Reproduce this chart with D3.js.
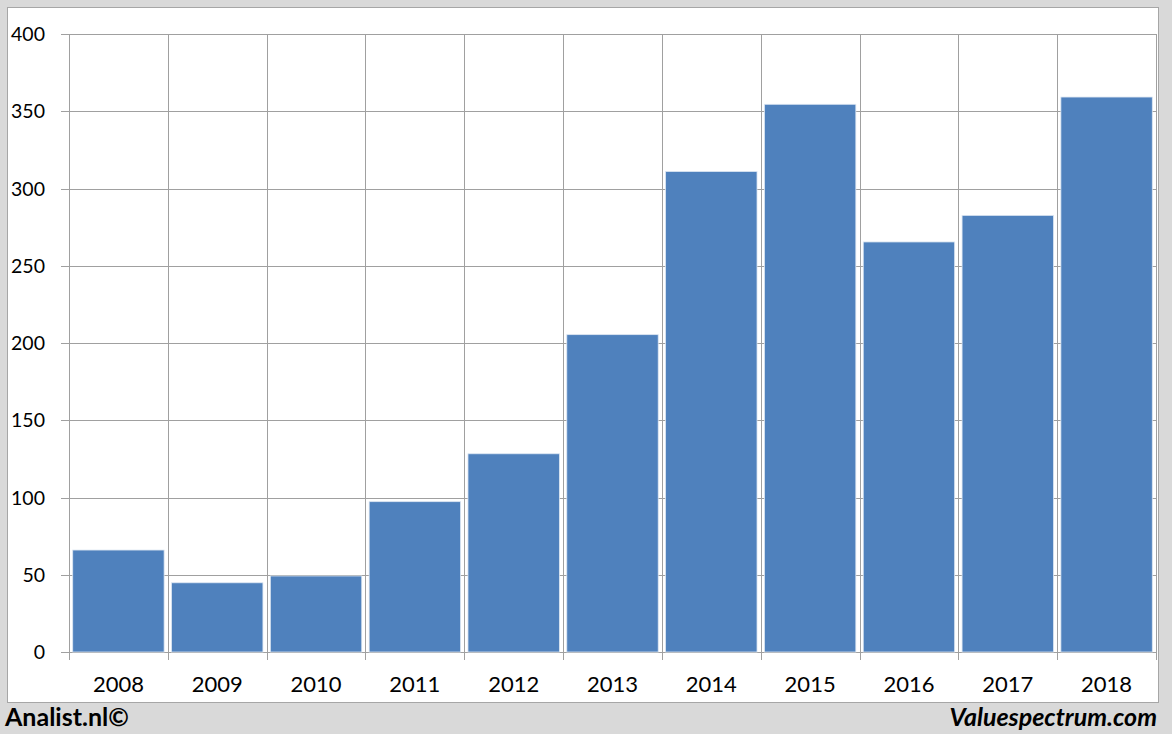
<!DOCTYPE html>
<html>
<head>
<meta charset="utf-8">
<script src="https://cdn.jsdelivr.net/npm/d3@7"></script>
<style>
  html, body { margin: 0; padding: 0; background: #d9d9d9; }
  svg { display: block; }
</style>
</head>
<body>
<svg id="chart" width="1172" height="734"></svg>
<script>
const years = ["2008","2009","2010","2011","2012","2013","2014","2015","2016","2017","2018"];
const values = [66, 44.8, 49.2, 97.3, 128.3, 205.4, 311, 354.5, 265.4, 282.6, 359.2];
const yTicks = [0, 50, 100, 150, 200, 250, 300, 350, 400];
const leftCredit = "Analist.nl©";
const rightCredit = "Valuespectrum.com";

const svg = d3.select("#chart");
const W = 1172, H = 734;

svg.append("rect").attr("x", 0).attr("y", 0).attr("width", W).attr("height", H).attr("fill", "#d9d9d9");
svg.append("rect").attr("x", 7.5).attr("y", 7.5).attr("width", 1151).attr("height", 695)
  .attr("fill", "#ffffff").attr("stroke", "#a6a6a6").attr("stroke-width", 1);

const plot = { left: 69, right: 1156, top: 34, bottom: 652 };

const x = d3.scaleBand().domain(years).range([plot.left, plot.right]).paddingInner(0.075).paddingOuter(0.0375);
const xb = d3.scaleBand().domain(years).range([plot.left, plot.right]).padding(0);
const y = d3.scaleLinear().domain([0, 400]).range([plot.bottom, plot.top]);

const gridColor = "#a0a0a0";

// horizontal grid
svg.append("g").selectAll("line").data(yTicks).join("line")
  .attr("x1", plot.left - 8).attr("x2", plot.right)
  .attr("y1", d => Math.round(y(d)) + 0.5).attr("y2", d => Math.round(y(d)) + 0.5)
  .attr("stroke", gridColor).attr("stroke-width", 1);

// vertical grid at category boundaries
const bounds = years.map(d => xb(d)).concat([xb(years[years.length-1]) + xb.bandwidth()]);
svg.append("g").selectAll("line").data(bounds).join("line")
  .attr("x1", d => Math.round(d) + 0.5).attr("x2", d => Math.round(d) + 0.5)
  .attr("y1", plot.top).attr("y2", plot.bottom + 8)
  .attr("stroke", gridColor).attr("stroke-width", 1);

// bars
svg.append("g").selectAll("rect").data(years).join("rect")
  .attr("x", (d) => x(d))
  .attr("width", x.bandwidth())
  .attr("y", (d, i) => y(values[i]))
  .attr("height", (d, i) => y(0) - y(values[i]))
  .attr("fill", "#4f81bd")
  .attr("stroke", "#dce6f2").attr("stroke-width", 0.8);

// y labels
svg.append("g").selectAll("text").data(yTicks).join("text")
  .attr("x", 45).attr("y", d => y(d))
  .attr("dy", "0.36em")
  .attr("text-anchor", "end")
  .attr("font-family", "Lato, 'Open Sans', sans-serif")
  .attr("font-size", 19.5)
  .attr("fill", "#000")
  .text(d => d);

// x labels
svg.append("g").selectAll("text").data(years).join("text")
  .attr("x", d => xb(d) + xb.bandwidth() / 2).attr("y", 692)
  .attr("text-anchor", "middle")
  .attr("font-family", "Lato, 'Open Sans', sans-serif")
  .attr("font-size", 22)
  .attr("fill", "#000")
  .text(d => d);

// credits
svg.append("text").attr("x", 5).attr("y", 726)
  .attr("font-family", "Lato, 'Open Sans', sans-serif")
  .attr("font-weight", "bold").attr("font-size", 25)
  .attr("fill", "#000").text(leftCredit);
svg.append("text").attr("x", 1157).attr("y", 726)
  .attr("text-anchor", "end")
  .attr("font-family", "Lato, 'Open Sans', sans-serif")
  .attr("font-weight", "bold").attr("font-style", "italic").attr("font-size", 25)
  .attr("fill", "#000").text(rightCredit);
</script>
</body>
</html>
